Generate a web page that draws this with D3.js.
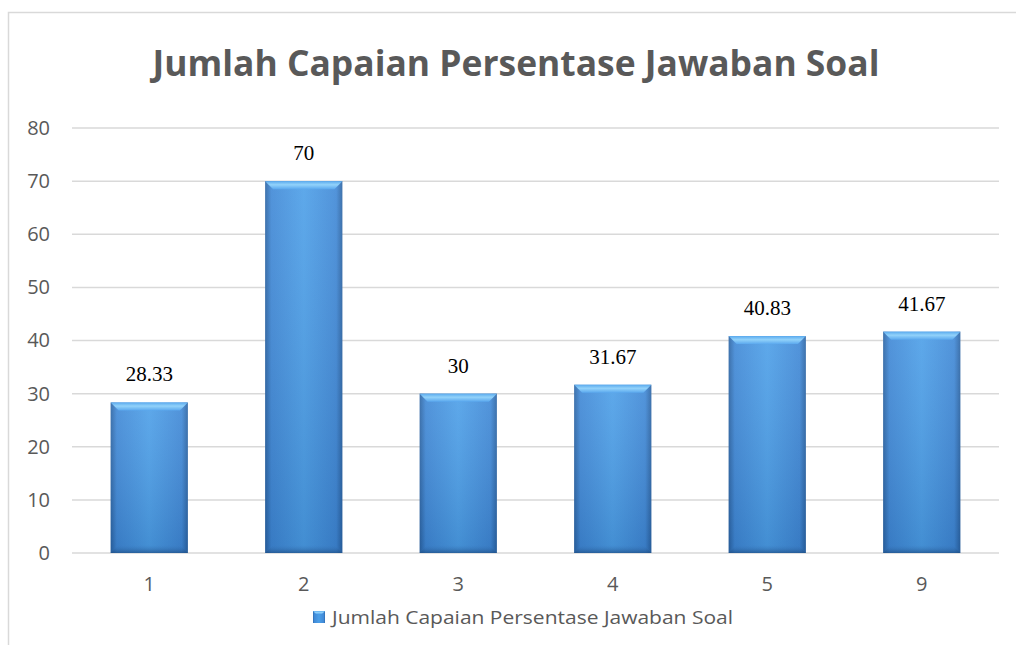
<!DOCTYPE html>
<html lang="en">
  <head>
    <meta charset="UTF-8" />
    <script src="https://d3js.org/d3.v7.min.js"></script>
    <style>
      body { margin: 0; background: #fff; }
      text { font-family: "Open Sans", sans-serif; }
    </style>
    <title>Jumlah Capaian Persentase Jawaban Soal</title>
  </head>
  <body>
    <div id="my_dataviz"></div>
    <script>
      // data
      var categories = ["1", "2", "3", "4", "5", "9"];
      var values = [28.33, 70, 30, 31.67, 40.83, 41.67];
      var yTicks = [0, 10, 20, 30, 40, 50, 60, 70, 80];
      var seriesName = "Jumlah Capaian Persentase Jawaban Soal";
      var chartTitle = "Jumlah Capaian Persentase Jawaban Soal";

      var width = 1016, height = 645;
      var margin = { top: 128, right: 17, bottom: 92, left: 72 };

      var svg = d3.select("#my_dataviz").append("svg")
        .attr("width", width).attr("height", height);

      // gradients for the bevelled bars
      var defs = svg.append("defs");
      var hg = defs.append("linearGradient").attr("id", "barH")
        .attr("x1", "0").attr("x2", "1").attr("y1", "0").attr("y2", "0");
      hg.append("stop").attr("offset", "0").attr("stop-color", "#2a63a3");
      hg.append("stop").attr("offset", "0.08").attr("stop-color", "#3f88d6");
      hg.append("stop").attr("offset", "0.5").attr("stop-color", "#4c9fe8");
      hg.append("stop").attr("offset", "0.92").attr("stop-color", "#3f88d6");
      hg.append("stop").attr("offset", "1").attr("stop-color", "#2a63a3");

      var vg = defs.append("linearGradient").attr("id", "barV")
        .attr("x1", "0").attr("x2", "0").attr("y1", "0").attr("y2", "1");
      vg.append("stop").attr("offset", "0").attr("stop-color", "#ffffff").attr("stop-opacity", 0.1);
      vg.append("stop").attr("offset", "1").attr("stop-color", "#0a2a55").attr("stop-opacity", 0.15);

      var tg = defs.append("linearGradient").attr("id", "barTop")
        .attr("x1", "0").attr("x2", "0").attr("y1", "0").attr("y2", "1");
      tg.append("stop").attr("offset", "0").attr("stop-color", "#5aaaee");
      tg.append("stop").attr("offset", "0.45").attr("stop-color", "#92d2fa");
      tg.append("stop").attr("offset", "1").attr("stop-color", "#5aa8ee");

      var bg = defs.append("linearGradient").attr("id", "barBot")
        .attr("x1", "0").attr("x2", "0").attr("y1", "0").attr("y2", "1");
      bg.append("stop").attr("offset", "0").attr("stop-color", "#3978bd").attr("stop-opacity", 0);
      bg.append("stop").attr("offset", "1").attr("stop-color", "#1f4f85").attr("stop-opacity", 0.7);

      // chart frame
      svg.append("path")
        .attr("d", "M8.5," + height + "V12.5H" + width)
        .attr("fill", "none").attr("stroke", "#d9d9d9").attr("stroke-width", 1.5);

      var x = d3.scaleBand()
        .domain(categories)
        .range([margin.left, width - margin.right])
        .paddingInner(0.5).paddingOuter(0.25);

      var y = d3.scaleLinear()
        .domain([0, 80])
        .range([height - margin.bottom, margin.top]);

      // title
      svg.append("text")
        .attr("x", 516).attr("y", 76)
        .attr("text-anchor", "middle")
        .attr("font-size", 36).attr("font-weight", "bold")
        .attr("fill", "#595959")
        .attr("textLength", 727).attr("lengthAdjust", "spacingAndGlyphs")
        .text(chartTitle);

      // gridlines
      svg.append("g").selectAll("line").data(yTicks).enter().append("line")
        .attr("x1", margin.left).attr("x2", width - margin.right)
        .attr("y1", function (d) { return y(d); })
        .attr("y2", function (d) { return y(d); })
        .attr("stroke", "#d9d9d9").attr("stroke-width", 1.5);

      // y axis labels
      var yAxis = svg.append("g")
        .attr("transform", "translate(" + (margin.left - 22) + ",0)")
        .call(d3.axisLeft(y).tickValues(yTicks).tickSize(0).tickPadding(0));
      yAxis.select(".domain").remove();
      yAxis.selectAll("text")
        .attr("font-family", "Open Sans").attr("font-size", 20)
        .attr("fill", "#595959");

      // x axis labels
      var xAxis = svg.append("g")
        .attr("transform", "translate(0," + (height - margin.bottom + 24) + ")")
        .call(d3.axisBottom(x).tickSize(0).tickPadding(0));
      xAxis.select(".domain").remove();
      xAxis.selectAll("text")
        .attr("font-family", "Open Sans").attr("font-size", 20)
        .attr("fill", "#595959");

      // bars
      var bars = svg.append("g").selectAll("g").data(values).enter().append("g");
      bars.append("rect")
        .attr("x", function (d, i) { return x(categories[i]); })
        .attr("y", function (d) { return y(d); })
        .attr("width", x.bandwidth())
        .attr("height", function (d) { return y(0) - y(d); })
        .attr("fill", "url(#barH)");
      bars.append("rect")
        .attr("x", function (d, i) { return x(categories[i]); })
        .attr("y", function (d) { return y(d); })
        .attr("width", x.bandwidth())
        .attr("height", function (d) { return y(0) - y(d); })
        .attr("fill", "url(#barV)");
      // top bevel
      var bev = 8;
      bars.append("path")
        .attr("d", function (d, i) {
          var x0 = x(categories[i]), x1 = x0 + x.bandwidth(), t = y(d);
          return "M" + x0 + "," + t + "H" + x1 + "L" + (x1 - bev) + "," + (t + bev) +
            "H" + (x0 + bev) + "Z";
        })
        .attr("fill", "url(#barTop)");
      // bottom bevel
      bars.append("path")
        .attr("d", function (d, i) {
          var x0 = x(categories[i]), x1 = x0 + x.bandwidth(), b = y(0);
          return "M" + x0 + "," + b + "H" + x1 + "L" + (x1 - bev) + "," + (b - bev) +
            "H" + (x0 + bev) + "Z";
        })
        .attr("fill", "url(#barBot)");

      // data labels
      svg.append("g").selectAll("text").data(values).enter().append("text")
        .attr("x", function (d, i) { return x(categories[i]) + x.bandwidth() / 2; })
        .attr("y", function (d) { return y(d) - 21; })
        .attr("text-anchor", "middle")
        .style("font-family", "'Liberation Serif', 'Times New Roman', serif")
        .attr("font-size", 21)
        .attr("fill", "#000")
        .text(function (d) { return d; });

      // legend
      var legend = svg.append("g");
      legend.append("rect")
        .attr("x", 313).attr("y", 611).attr("width", 12).attr("height", 12)
        .attr("fill", "url(#barH)");
      legend.append("path")
        .attr("d", "M313,611H325L322,614H316Z").attr("fill", "url(#barTop)");
      legend.append("text")
        .attr("x", 332).attr("y", 624)
        .attr("font-size", 18).attr("fill", "#595959")
        .attr("textLength", 401).attr("lengthAdjust", "spacingAndGlyphs")
        .text(seriesName);
    </script>
  </body>
</html>
